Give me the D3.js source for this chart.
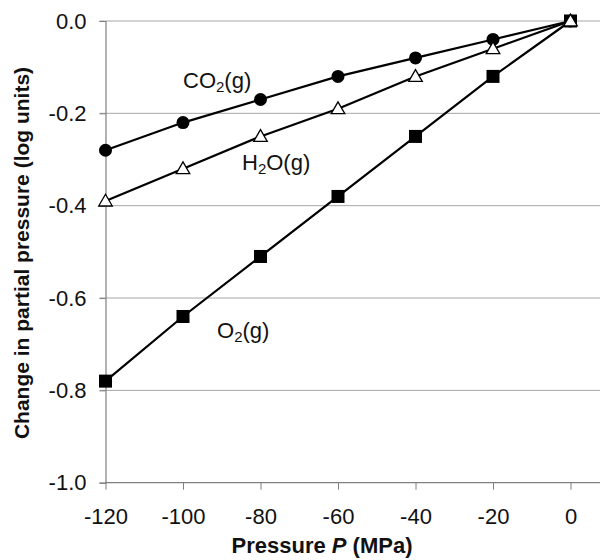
<!DOCTYPE html>
<html>
<head>
<meta charset="utf-8">
<script src="https://cdn.jsdelivr.net/npm/d3@7"></script>
<style>
  body { margin: 0; background: #fff; }
  svg { font-family: "Liberation Sans", Arial, sans-serif; }
</style>
</head>
<body>
<svg id="chart" width="600" height="560"></svg>
<script>
// pressure values (MPa)
const pressures = [-120, -100, -80, -60, -40, -20, 0];

// change in partial pressure, log units
const co2 = [-0.28, -0.22, -0.17, -0.12, -0.08, -0.04, 0];
const h2o = [-0.39, -0.32, -0.25, -0.19, -0.12, -0.06, 0];
const o2 = [-0.78, -0.64, -0.51, -0.38, -0.25, -0.12, 0];

const xTicks = [-120, -100, -80, -60, -40, -20, 0];
const yTicks = [0, -0.2, -0.4, -0.6, -0.8, -1.0];

const svg = d3.select('#chart');

// plot box
const plotLeft = 105.5, plotTop = 21, plotRight = 600, plotBottom = 482.7;

const x = d3.scaleLinear().domain([-120, 0]).range([plotLeft, 570.5]);
const y = d3.scaleLinear().domain([-1, 0]).range([plotBottom, plotTop]);

// plain hyphen for negatives, like the original
const fmtY = d => d3.format('.1f')(d).replace('\u2212', '-');
const fmtX = d => d3.format('d')(d).replace('\u2212', '-');

// horizontal grid lines
svg.append('g')
    .selectAll('line')
    .data(yTicks.filter(d => d !== -1))
    .join('line')
    .attr('x1', plotLeft - 6)
    .attr('x2', plotRight)
    .attr('y1', d => y(d))
    .attr('y2', d => y(d))
    .attr('stroke', '#a6a6a6')
    .attr('stroke-width', 1);

// y axis
const yAxis = svg.append('g')
    .attr('transform', `translate(${plotLeft},0)`)
    .call(d3.axisLeft(y).tickValues(yTicks).tickSize(6).tickPadding(13).tickFormat(fmtY));
yAxis.select('.domain').attr('stroke', '#7f7f7f').attr('stroke-width', 1.2);
yAxis.selectAll('.tick line').attr('stroke', '#7f7f7f');
yAxis.selectAll('text')
    .attr('font-size', 22)
    .attr('fill', '#111')
    .attr('font-family', '"Liberation Sans", Arial, sans-serif');

// x axis
const xAxis = svg.append('g')
    .attr('transform', `translate(0,${plotBottom})`)
    .call(d3.axisBottom(x).tickValues(xTicks).tickSize(7).tickPadding(19).tickFormat(fmtX));
xAxis.select('.domain').remove();
xAxis.append('line')
    .attr('x1', plotLeft).attr('x2', plotRight)
    .attr('stroke', '#7f7f7f').attr('stroke-width', 1.2);
xAxis.selectAll('.tick line').attr('stroke', '#7f7f7f');
xAxis.selectAll('text')
    .attr('font-size', 22)
    .attr('fill', '#111')
    .attr('font-family', '"Liberation Sans", Arial, sans-serif');

// axis titles
svg.append('text')
    .attr('x', 322)
    .attr('y', 553)
    .attr('text-anchor', 'middle')
    .attr('font-size', 22)
    .attr('font-weight', 'bold')
    .attr('fill', '#111')
    .html('Pressure <tspan font-style="italic">P</tspan> (MPa)');

svg.append('text')
    .attr('transform', 'translate(29,253) rotate(-90)')
    .attr('text-anchor', 'middle')
    .attr('font-size', 21)
    .attr('font-weight', 'bold')
    .attr('fill', '#111')
    .text('Change in partial pressure (log units)');

const line = d3.line()
    .x((d, i) => x(pressures[i]))
    .y(d => y(d));

// marker order: circles at the bottom, triangles on top
const series = [
    { name: 'co2', values: co2, marker: 'circle' },
    { name: 'o2', values: o2, marker: 'square' },
    { name: 'h2o', values: h2o, marker: 'triangle' }
];

series.forEach(s => {
    svg.append('path')
        .datum(s.values)
        .attr('d', line)
        .attr('fill', 'none')
        .attr('stroke', '#000')
        .attr('stroke-width', 2.2);
});

series.forEach(s => {
    const g = svg.append('g');
    const pts = s.values.map((v, i) => ({ px: x(pressures[i]), py: y(v) }));
    if (s.marker === 'circle') {
        g.selectAll('circle').data(pts).join('circle')
            .attr('cx', d => d.px).attr('cy', d => d.py)
            .attr('r', 6.5).attr('fill', '#000');
    } else if (s.marker === 'square') {
        g.selectAll('rect').data(pts).join('rect')
            .attr('x', d => d.px - 6.5).attr('y', d => d.py - 6.5)
            .attr('width', 13).attr('height', 13)
            .attr('fill', '#000');
    } else {
        g.selectAll('path').data(pts).join('path')
            .attr('d', d3.symbol(d3.symbolTriangle, 80))
            .attr('transform', d => `translate(${d.px},${d.py + 1})`)
            .attr('fill', '#fff')
            .attr('stroke', '#000')
            .attr('stroke-width', 1.3);
    }
});

// series labels
const labels = [
    { x: 183, y: 88, base: 'CO', sub: '2', rest: '(g)' },
    { x: 242, y: 170, base: 'H', sub: '2', rest: 'O(g)' },
    { x: 217, y: 338, base: 'O', sub: '2', rest: '(g)' }
];

labels.forEach(l => {
    const t = svg.append('text')
        .attr('x', l.x).attr('y', l.y)
        .attr('font-size', 22)
        .attr('fill', '#111');
    t.append('tspan').text(l.base);
    t.append('tspan').attr('font-size', 15).attr('dy', 4).text(l.sub);
    t.append('tspan').attr('dy', -4).text(l.rest);
});
</script>
</body>
</html>
